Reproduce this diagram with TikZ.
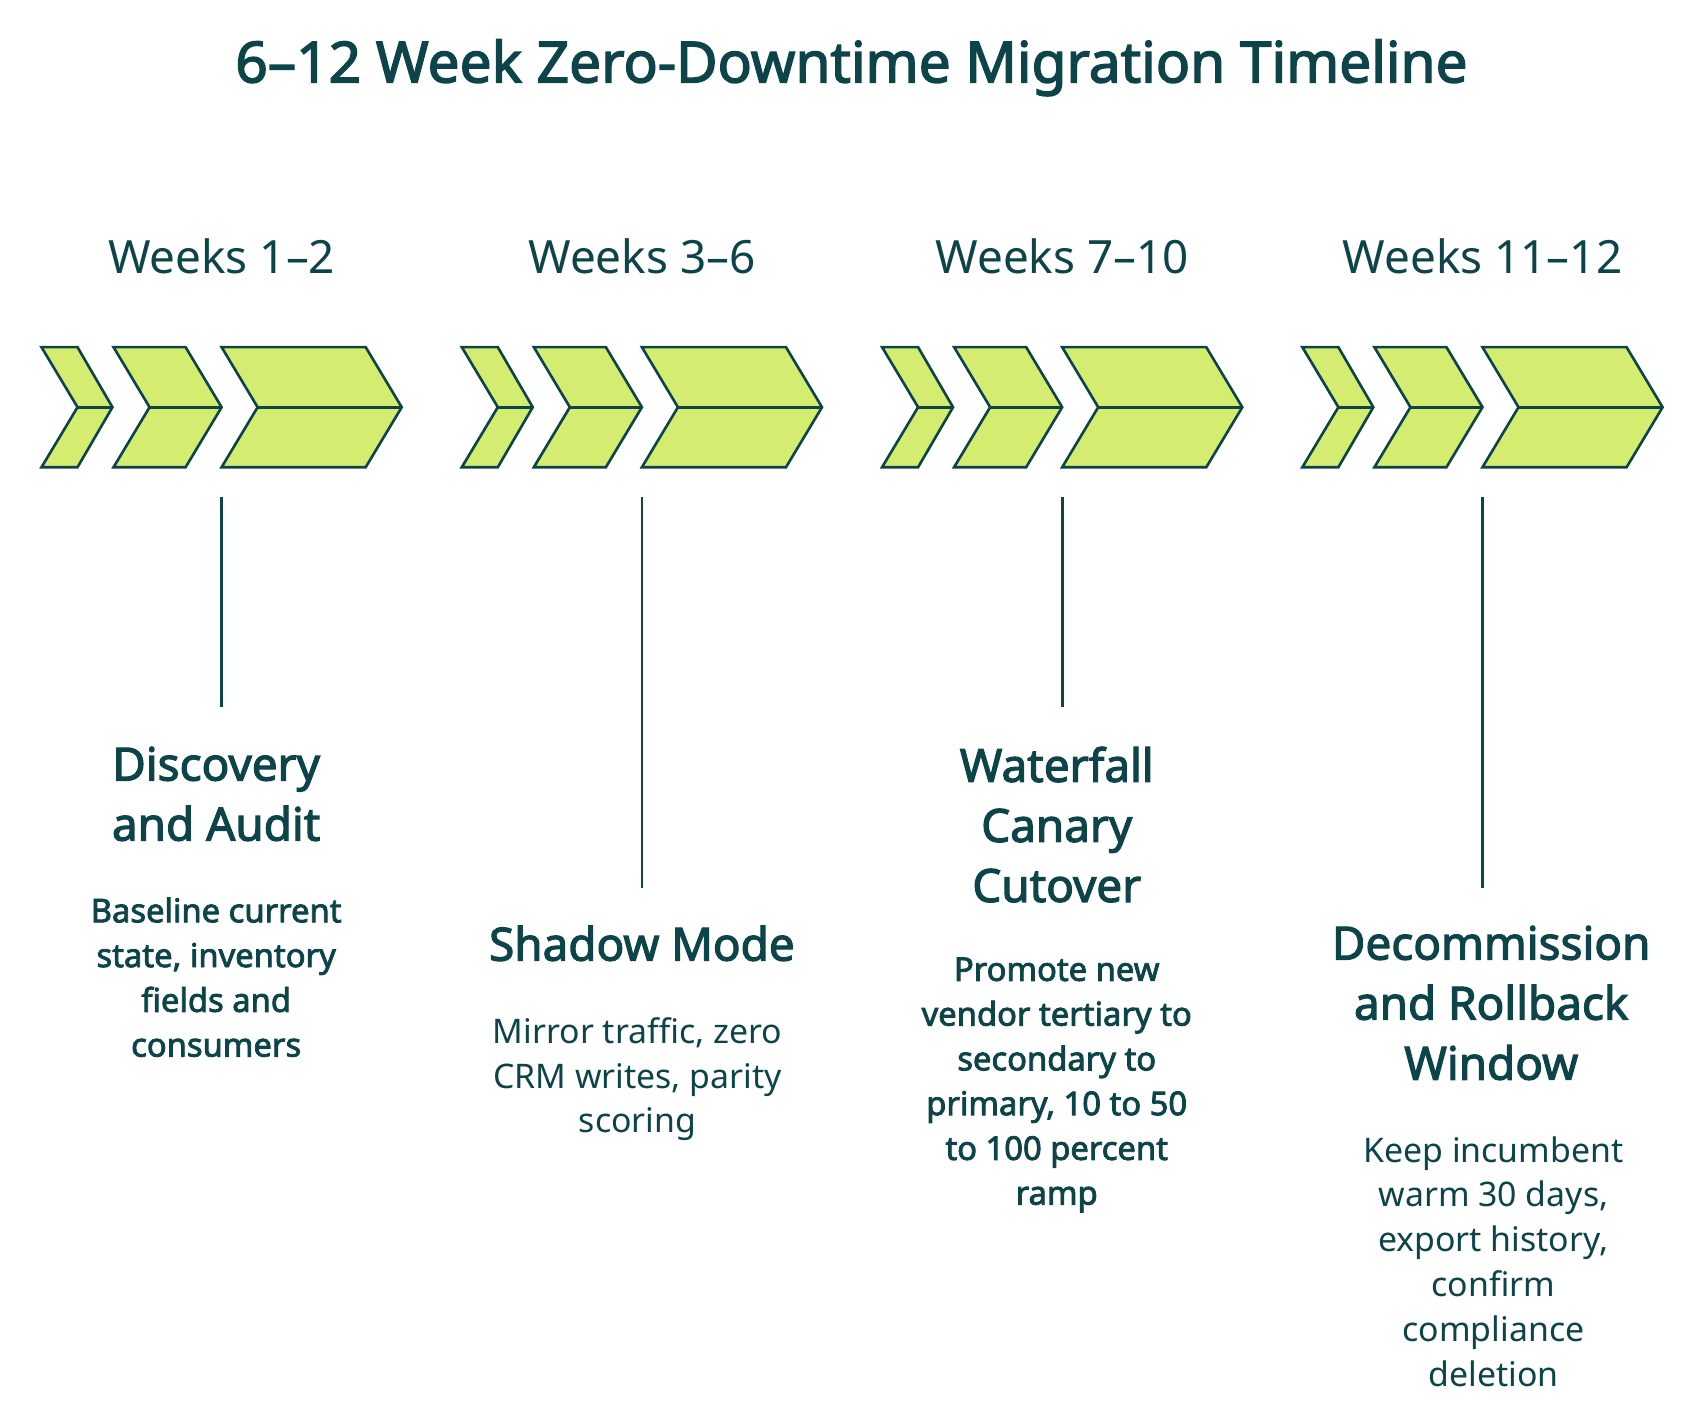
\documentclass[tikz,border=0pt]{standalone}
\usepackage{fontspec}
\setmainfont{Noto Sans}[BoldFont={Noto Sans},BoldFeatures={FakeBold=2.5}]
\definecolor{ink}{HTML}{0D4449}
\definecolor{lime}{HTML}{D4ED70}
\begin{document}
\begin{tikzpicture}[x=0.5pt,y=-0.5pt,
  chev/.style={fill=lime,draw=ink,line width=1.2pt,line join=miter},
  vline/.style={draw=ink,line width=1.2pt},
  week/.style={text=ink,font=\fontsize{21}{25}\selectfont,anchor=center},
  head/.style={text=ink,font=\bfseries\fontsize{21}{27.5}\selectfont,align=center,anchor=north},
  bodyb/.style={text=ink,font=\bfseries\fontsize{15}{20.5}\selectfont,align=center,anchor=north},
  bodyr/.style={text=ink,font=\fontsize{15.5}{20.5}\selectfont,align=center,anchor=north}]
\useasboundingbox (0,0) rectangle (1560,1302);
\node[text=ink,font=\bfseries\fontsize{26}{30}\selectfont] (title) at (780,62) {6–12 Week Zero-Downtime Migration Timeline};
\foreach \i/\w in {0/Weeks 1–2,1/Weeks 3–6,2/Weeks 7–10,3/Weeks 11–12}{
  \begin{scope}[xshift=\i*385*0.5pt]
    \node[week] (w\i) at (203,235) {\w};
    \draw[chev] (38,318)--(71,318)--(103,373)--(71,428)--(38,428)--(71,373)--cycle;
    \draw[chev] (104,318)--(170,318)--(203,373)--(170,428)--(104,428)--(137,373)--cycle;
    \draw[chev] (203,318)--(335,318)--(368,373)--(335,428)--(203,428)--(236,373)--cycle;
    \draw[vline] (71,373)--(103,373) (137,373)--(203,373) (236,373)--(368,373);
    \coordinate (t\i) at (203,455);
  \end{scope}
}
\coordinate (b0) at (203,648);
\coordinate (b1) at (588,813);
\coordinate (b2) at (973,648);
\coordinate (b3) at (1358,813);
\foreach \i in {0,...,3}{\draw[vline] (t\i)--(b\i);}
\node[head] (h0) at (198,677) {Discovery\\and Audit};
\node[bodyb] (d0) at (198,815) {Baseline current\\state, inventory\\fields and\\consumers};
\node[head] (h1) at (588,841) {Shadow Mode};
\node[bodyr] (d1) at (584,925) {Mirror traffic, zero\\CRM writes, parity\\scoring};
\node[head] (h2) at (968,677) {Waterfall\\Canary\\Cutover};
\node[bodyb] (d2) at (968,870) {Promote new\\vendor tertiary to\\secondary to\\primary, 10 to 50\\to 100 percent\\ramp};
\node[head] (h3) at (1366,841) {Decommission\\and Rollback\\Window};
\node[bodyr] (d3) at (1368,1034) {Keep incumbent\\warm 30 days,\\export history,\\confirm\\compliance\\deletion};
\end{tikzpicture}
\end{document}
